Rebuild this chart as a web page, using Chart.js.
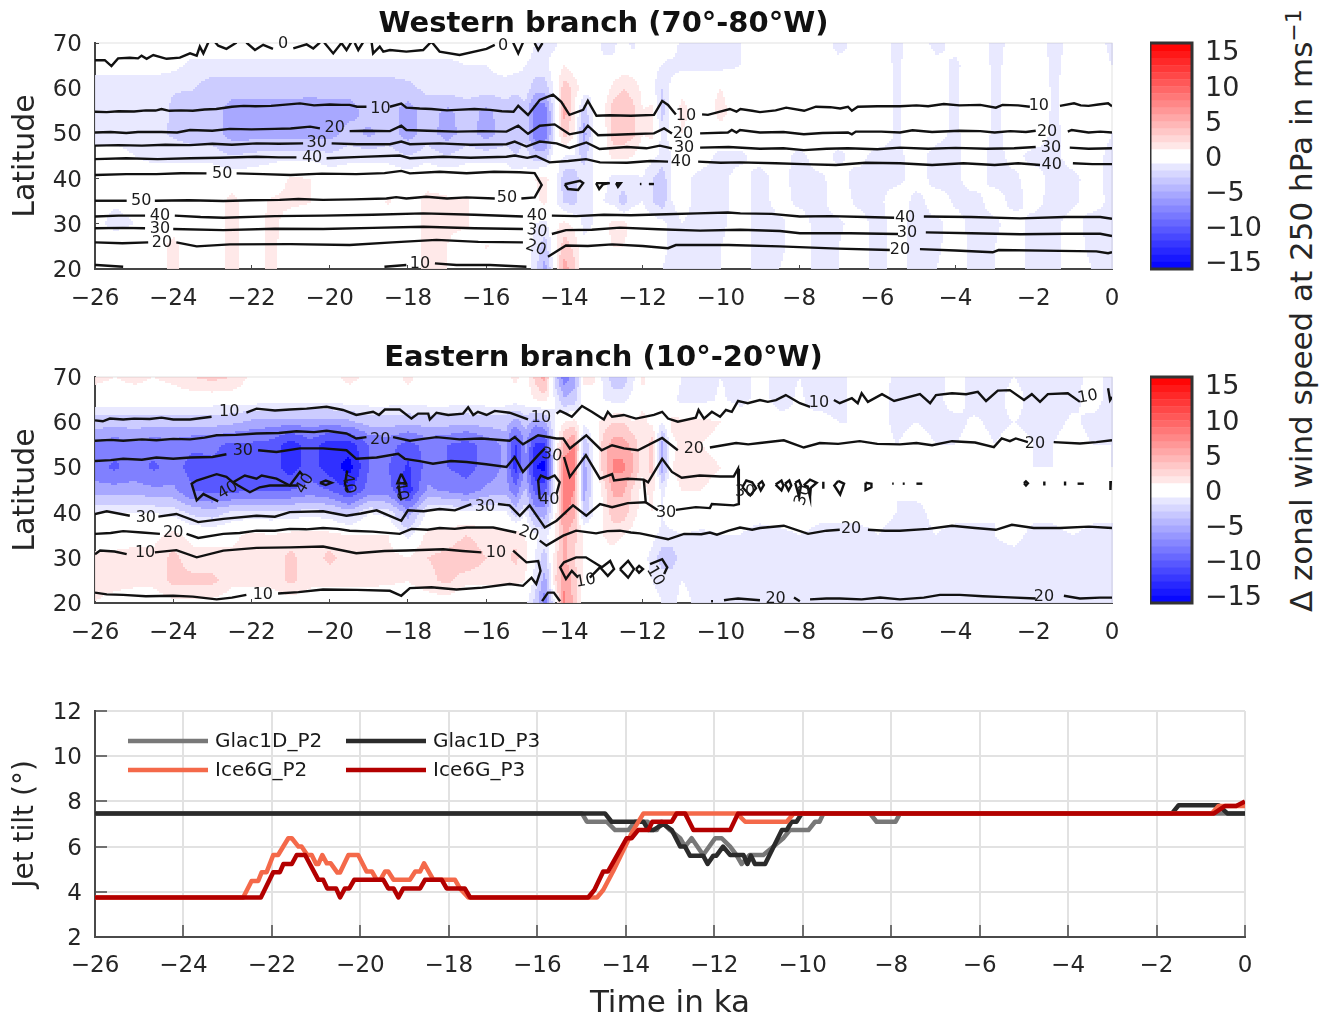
<!DOCTYPE html>
<html>
<head>
<meta charset="utf-8">
<title>Jet wind speed and tilt</title>
<script src="https://cdn.jsdelivr.net/npm/chart.js@4"></script>
<style>
  html, body { margin: 0; padding: 0; background: #fff; width: 1332px; height: 1016px; overflow: hidden; }
  canvas { position: absolute; }
  #sideLabel { position: absolute; left: 1283px; top: 612px; transform-origin: left top; transform: rotate(-90deg);
    white-space: nowrap; font: 31px/36px "DejaVu Sans"; color: #262626; }
  #sideLabel sup { font-size: 22px; line-height: 0; }
</style>
</head>
<body>
<canvas id="westChart" width="1207" height="314" style="left:0;top:0"></canvas>
<canvas id="westBar" width="130" height="246" style="left:1150px;top:33px"></canvas>
<canvas id="eastChart" width="1207" height="314" style="left:0;top:334px"></canvas>
<canvas id="eastBar" width="130" height="246" style="left:1150px;top:367px"></canvas>
<canvas id="tiltChart" width="1332" height="318" style="left:0;top:701px"></canvas>
<div id="sideLabel">Δ zonal wind speed at 250 hPa in ms<sup>−1</sup></div>

<script>
const timeTicks = [-26, -24, -22, -20, -18, -16, -14, -12, -10, -8, -6, -4, -2, 0];
const latTicks = [20, 30, 40, 50, 60, 70];
const tiltTicks = [2, 4, 6, 8, 10, 12];
const colorTicks = [-15, -10, -5, 0, 5, 10, 15];

// columns and rows of the wind anomaly field
const fieldTimes = [-26, -25.5, -25, -24.5, -24, -23.5, -23, -22.5, -22, -21.5, -21, -20.5, -20, -19.5, -19, -18.5, -18, -17.5, -17, -16.5, -16,
  -15.5, -15.25, -15, -14.75, -14.5, -14.25, -14, -13.75, -13.5, -13.25, -13, -12.75, -12.5, -12.25, -12, -11.75, -11.5, -11.25, -11,
  -10.5, -10, -9.5, -9, -8.5, -8, -7.5, -7, -6.5, -6, -5.5, -5, -4.5, -4, -3.5, -3, -2.5, -2, -1.5, -1, -0.5, 0];
const fieldLats = [20, 25, 30, 35, 40, 45, 50, 55, 60, 65, 70];

const westLat70 = [0,0,0,0,0,0,0,0,0,0,0,0,0,0,0,0,0,0,0,0,0,
  0,0,0,-1,-1.5,-1.5,0,0,0,0,-1.5,-1.5,0,-1.5,0,0,-0.5,0,-1.5,
  -1.5,-1.5,-1,0,0,0,0,-1.5,-0.5,0,-1.5,0,-1.5,-0.5,0,-1.5,-0.5,0,-1.5,-0.5,0,-1.5];
const westLat65 = [0,0,0,0,-0.5,-1.5,-1.5,-1.5,-1.5,-1.5,-1.5,-1.5,-1.5,-1.5,-1.5,-1.5,-1.5,-1.5,-1.5,-1,-1,
  -0.5,-0.5,-1,-1.5,-1.5,0,1,0,0,0,-0.5,-0.5,0,0,0,-0.5,-1,-1.5,-1.5,
  -1.5,-1.5,-1,-0.5,0,0,0,-0.5,-1,0,-1.3,0,-0.5,-1.3,0,-1.3,-0.5,0,-1.3,-0.5,0,-1];
const westLat60 = [-2.4,-2.4,-2.4,-2.4,-2.4,-2.4,-3.5,-3.5,-3.5,-3.5,-3.5,-3.5,-3.5,-3.5,-3.5,-3.5,-3,-2,-1.5,-1.5,-1.5,
  -1.5,-2,-1.5,-3.5,-3.5,-0.5,3.5,2,0,-1,0,1.5,2.5,2,0.5,-0.5,-2.5,-0.5,0.5,
  0.5,1,0,-0.8,-0.3,0,0,-0.3,-0.8,0,-1.2,0,-0.5,-1.2,0,-1.2,-0.5,0,-1.2,-0.5,0,-0.8];
const westLat55 = [-1.5,-1.5,-1.5,-1.8,-2.7,-3.5,-3.5,-5.5,-5.5,-5.5,-5.5,-6,-5.5,-5.5,-3.5,-3.5,-5.5,-3.5,-5,-3.5,-5,
  -3.5,-4,-3,-8,-8,-1.5,5.5,1,-3.5,-0.5,0.5,3.5,3.5,3,1,1.5,-3.5,0,1.5,
  0,1.5,0,-0.8,-0.3,0,0,-0.3,-0.8,0,-1.2,0,-0.5,-1.2,0,-1.2,-0.5,0,-1.2,-0.5,0,-0.8];
const westLat50 = [-1.5,-1.5,-1.5,-1.8,-2.8,-3.5,-3.5,-5.5,-5.5,-5.5,-5.5,-5.5,-5.5,-3.5,-5,-3.5,-5.5,-3.5,-5.5,-3.5,-5.5,
  -3.5,-4,-3,-8,-8.5,-1.5,3.5,1,-5.5,-1,0,3.5,3.5,3,1,1.5,-1.5,-0.5,1,
  0,0.5,0,-0.8,-0.3,0,0,-0.3,-1,0,-1.2,0,-0.5,-1.3,0,-1.3,-0.5,0,-1.3,-0.5,0,-1];
const westLat45 = [-0.5,-0.5,-1,-1.5,-1.5,-1.5,-1.5,-2.5,-2,-1.5,-1.5,-1.5,-2,-1.5,-1.5,-1.5,-2.5,-1.5,-2.5,-1.5,-1.5,
  -1.5,-2.5,-1.5,-3.5,-3.5,0,-1,-1,-3.5,-0.5,0,1.5,1.5,1,0,-0.5,-1.5,-1,0,
  -0.3,-1.5,-1.3,-0.5,-0.3,-1.5,-0.3,-1.3,-0.5,-1.5,-1.3,-0.5,-1.5,-1.3,-0.3,-1.5,-0.5,-1.5,-1.3,-0.5,-0.3,-1.5];
const westLat40 = [0,0,0,0,0,0,0,0,0,0,1.2,1,0,0,0,0,0,0.3,0.3,0,0,
  0,0,-0.5,1,1.5,0,-3.5,-3.5,-1,-1,-0.5,-1.5,-1.5,-1.5,-1,-2.5,-3.5,-1,-0.5,
  -1.5,-1.3,-0.5,-1.5,-0.5,-1.5,-1.3,-0.5,-1.5,-1.3,-1.5,-0.3,-1.5,-1.3,-0.3,-1.5,-1.3,-0.3,-1.5,-1.3,-0.5,-1.5];
const westLat35 = [-0.5,-0.8,-0.5,0,0,-0.5,0,1.5,0,1.2,1.3,1.1,0,-0.5,0,1.2,0,1.5,1.2,1.2,0,
  0,0,0,0.5,1.5,-0.5,-3,-3,-1,-1,-1,-1.5,-3.5,-1.5,-1,-2.5,-3.5,-1,-0.5,
  -1.5,-1.5,-0.3,-1.5,-0.5,-1.3,-1.5,-0.2,-1.3,-1.5,0,-1.5,-0.3,-1.2,-1.5,-0.3,-1.5,-0.5,-1.5,-1.2,-0.5,-1.3];
const westLat30 = [-0.5,-1.5,-1,0,0.3,0,0,1.5,0,1.5,0.3,0,0,0,0,0.3,0,1.5,1.2,1.2,0,
  0,0.5,0,-1,-1.5,0.5,1.5,0.5,-1.5,-1,0.5,1.5,1.5,0.5,0,0,-0.5,-1.5,-1,
  -1.5,-1.3,-0.3,-1.5,-1.3,-0.3,-1.5,-1.3,-0.3,-1.5,-0.5,-1.5,-1.3,-0.5,-1.5,-1.3,-0.3,-1.5,-1.3,-0.5,-1.5,-1.3];
const westLat25 = [0,0,0,0,1.5,0,0,1.5,0,1.5,0,0,0,0,0,0,0,1.5,1,0.3,1.1,
  0.5,0.5,0,-1.5,-3.5,0.5,3.5,2,-0.5,0,0.5,1,1,0.5,0,0,-0.5,-1.5,-1,
  -1.5,-1,-0.3,-1.5,-1.3,-0.3,-1.5,-1,-0.3,-1.5,-0.5,-1.5,-1.3,-0.3,-1.5,-1,-0.3,-1.5,-1.3,-0.5,-1.3,-1];
const westLat20 = [0,0,0,0,1.5,0,0,1.5,0,1.5,0,0,0,0,0,0,0,1.5,1,0.3,0,
  0,0,0,-1.5,-5.5,0,5.5,3,-0.5,0,0,0,0.5,0,0,0,-1,-1.5,-1,
  -1.5,-1,-0.3,-1.5,-1,-0.3,-1.5,-1,-0.3,-1.5,-0.5,-1.5,-1,-0.3,-1.5,-1,-0.3,-1.5,-1.3,-0.5,-1,-1];

const eastLat70 = [1.5,1,1.5,1,1.5,2.5,3,2.5,0.5,0,0,0,0.5,1.5,0.5,0,1.5,0,0,0,0,
  0.5,1.5,0,3,5.5,-3,-8,-5.5,1.5,1.5,-1.5,-3.5,-3.5,-1.5,1.5,0,-0.5,0,-1,
  -1.5,-1,-1.5,-0.5,-1.5,-1,-1.5,-1.5,-0.5,0,-1.5,-1.5,-1.5,-0.5,-1.5,-1.5,-1,-1.5,-1.5,-1.5,-0.5,-1.5];
const eastLat65 = [0,0,0,0,0,0,0,0,0,0,0,0,0,0,0,0,0,0,0,0,0,
  0,0,0,1,1.5,-1,-4,-3.5,0,0,-1,-1.5,-1.5,-0.5,0.5,0,0,-0.5,-1.5,
  -1.5,-0.8,-1.5,-0.5,-1.5,-0.8,-1.5,-1.5,-0.5,-0.3,-1.5,-1.5,-1.3,-0.5,-1.5,-1.5,-0.5,-1.5,-1.5,-1.3,-0.5,-1.5];
const eastLat60 = [-3.5,-3.5,-3.5,-3.5,-3.5,-3.5,-3.5,-4,-5,-5.5,-5.5,-5.5,-5.5,-5,-3.5,-3.5,-4,-3.5,-3.5,-4,-3.5,
  -3.5,-5.5,-3.5,-5.5,-4.5,-1,1,1.5,-0.5,0.5,1.5,2.5,2.5,1,1.5,0.5,-1,1.5,1.5,
  1.5,1,0,0,-0.5,-1,-0.5,-1,-1,-0.5,-1.3,-1,-1.3,-1.3,-0.8,-1.3,-1,-1.3,-1.3,-0.8,-1.3,-1.3];
const eastLat55 = [-7,-8,-7,-8,-7.5,-8.5,-8.5,-9.5,-9.5,-10,-13,-10,-13,-13,-9,-8,-10,-8,-9,-10,-8,
  -6,-12,-6,-12,-12,-1,5,7,-4,-1,3.5,5.5,5.5,4,1,3.5,-5.5,0.5,1.5,
  1,0.5,0,-0.5,-0.5,0,-0.5,-1,-0.5,-0.5,-1,-0.5,-1,-1,-0.5,-1,-0.5,-1,-1,-0.5,-1,-1];
const eastLat50 = [-8,-9.5,-8,-9.5,-8,-10,-9.5,-10,-10.5,-10,-13,-10,-13,-15,-9,-9,-12,-8,-9,-10,-8,
  -6,-13,-6,-14,-15,-1.5,8,7,-5.5,-1,3.5,7,7,5,1,3.5,-5.5,1,1.5,
  1.5,1,0,0,-0.5,-0.5,0,-1,-0.5,-0.5,-1,-0.5,-1,-0.5,-0.5,-1,-0.5,-1,-1,-0.5,-0.5,-1];
const eastLat45 = [-5.5,-5.5,-5.5,-6,-6,-9,-10,-10,-9,-9,-9,-8,-9,-12,-8,-8,-13,-6,-7,-8,-6,
  -5.5,-8,-4,-10,-10,-1.5,9,6.5,-5.5,-1,1.5,5,5,2,0.5,1.5,-1.5,0.5,1,
  1,0.5,0,0,0,0.5,-0.5,-0.5,-0.5,-0.5,-1,-0.5,-0.5,-0.5,-0.5,-1,0,-0.5,-0.5,0,-0.5,-0.5];
const eastLat40 = [-1,-1,-1,-1,-1.5,-3,-3.5,-2,-2,-2,-2,-1.5,-2,-3.5,-1,-1.5,-5.5,-0.5,-0.5,-0.5,-0.5,
  -0.5,-3.5,-1,-5.5,-5.5,0,7,5,-3.5,-1,1,3.5,3.5,1.5,0.5,1,-1,0.5,0.5,
  0.5,0,-0.5,-0.5,0,0,-0.5,-0.5,-0.5,-0.5,-1,-1.5,-0.5,-0.5,-0.5,-1,0,-0.5,-0.5,0,-0.5,-0.5];
const eastLat35 = [0,0,0.5,0.5,1.5,0.5,0.5,0.5,1.5,1,1.5,1.5,1.5,1,1,1,-1.5,1.5,1.5,2.5,1.5,
  1.5,2,1,-0.5,-1.5,0.5,5,3,1,1,1,1.5,1,0.5,0,-0.5,-1.5,-1.5,-1,
  -1.5,-1,-1,-1.5,-1.5,-1,-1.5,-1.5,-1.5,-1,-1.5,-1.5,-1,-1.5,-1.5,-1,-0.5,-1.5,-1.5,-1,-1.5,-1.5];
const eastLat30 = [1.5,1.5,1.5,1.5,3,1.5,1.5,1.5,2,1.5,3,1.5,3,1.5,1.5,1.5,1,2.5,3,4,2.5,
  2,3,1.5,-1,-3.5,1.5,5,2.5,1,0.5,0.5,0.5,0,0,-0.5,-1.5,-3.5,-3.5,-1.5,
  -1.5,-1,-1.5,-1.5,-1.5,-1.2,-1.5,-1.5,-1,-1.5,-1.5,-1.5,-1.5,-1.5,-1,-1.5,-1.5,-1.5,-1.5,-1.2,-1.5,-1.5];
const eastLat25 = [1.5,1.5,1.5,1.5,3,3,3,1.5,1.5,1.5,3,1.5,1.5,1.5,1.5,1.5,1,2,3,1.5,1.5,
  1.5,1.5,1,-1.5,-5.5,2,6.5,3.5,0.5,0,0,0,0,0,-0.5,-1,-1.5,-1.5,-1,
  -1.5,-1.5,-1.5,-1.5,-1.5,-1,-1.5,-1.5,-1.5,-1.5,-1.2,-1.5,-1.5,-1,-1.5,-1.5,-1.5,-1.5,-1.2,-1.5,-1.5,-1.5];
const eastLat20 = [1,0.5,0,0,0.5,0.5,0.5,0,0,0,0,0,0,0,0,-1,0,0,0,-1,-1,
  -1,-1,-0.5,-3,-8,-1,7,4,-0.5,0,0,0,0,0,-0.5,-0.5,-1,-1.5,-0.5,
  -1.5,-1,-1.5,-1.5,-1.5,-1,-1.5,-1.5,-1.5,-1,-1.5,-1.5,-1.5,-1,-1.5,-1.5,-1.5,-1.5,-1,-1.5,-1.5,-1.5];

const westRows = [westLat20, westLat25, westLat30, westLat35, westLat40, westLat45, westLat50, westLat55, westLat60, westLat65, westLat70];
const eastRows = [eastLat20, eastLat25, eastLat30, eastLat35, eastLat40, eastLat45, eastLat50, eastLat55, eastLat60, eastLat65, eastLat70];

// filled contour classes
const bandEdges = [1, 2.5, 4.5, 6.5, 9, 11.5, 14];
const blueBands = ['#e9e9ff', '#ccccff', '#a8a8ff', '#8080ff', '#5858ff', '#3030ff', '#0000ff'];
const redBands = ['#ffe9e9', '#ffcccc', '#ffaaaa', '#ff8080', '#ff5858', '#ff3030', '#ff0000'];
const colorEdges = [-16, -15, -14, -13, -12, -11, -10, -9, -8, -7, -6, -5, -4, -3, -2, -1, 1, 2, 3, 4, 5, 6, 7, 8, 9, 10, 11, 12, 13, 14, 15, 16.2];

// contour lines of the jet, [time, latitude], one list per unbroken piece
const westLines = [
  // 0
  [[-26,66.2],[-25.75,66.2],[-25.58,64.9],[-25.41,66.6],[-25.11,66.75],[-24.9,66.6],[-24.81,67.2],[-24.68,66.5],[-24.51,67.35],[-24.17,66.5],[-23.83,66.75],[-23.57,67.7],[-23.4,67.2],[-23.32,69.2],[-23.23,67.7],[-23.11,70],[-23.06,71]],
  [[-22.94,70.3],[-22.85,69.4],[-22.64,68.7],[-22.38,70.1]],
  [[-22.13,70.1],[-21.91,68.45],[-21.7,69.6],[-21.45,68.7]],
  [[-20.93,68.8],[-20.59,69.7],[-20.42,68.8],[-20.25,70.1]],
  [[-20.14,70.1],[-19.91,67.7],[-19.7,70],[-19.57,68.45],[-19.44,70.3]],
  [[-19.36,70],[-19.27,68.45],[-19.15,70.1]],
  [[-18.93,70.3],[-18.89,67.7],[-18.72,69.2],[-18.63,68.1],[-18.46,68.45],[-18.04,68.1],[-17.61,68.45],[-17.4,70.3],[-17.19,68.1],[-16.68,67.35],[-15.99,68.7],[-15.78,69.6]],
  [[-15.31,70.1],[-15.18,67.7],[-15.06,70.1]],
  [[-14.76,70],[-14.67,68.45],[-14.56,70]],
  // 10 upper
  [[-26,54.8],[-25.7,54.7],[-25.4,54.9],[-25,54.85],[-24.7,55.1],[-24.45,55.05],[-24.3,55.4],[-24.1,55],[-23.8,55.1],[-23.5,55],[-23.2,55.3],[-22.9,55.4],[-22.5,55.9],[-22.2,56.1],[-21.9,56],[-21.5,56.1],[-21.2,56.3],[-20.76,56.65],[-20.4,56.2],[-20,56.4],[-19.7,56.3],[-19.49,56.3],[-19.3,55.9],[-19.06,55.9]],
  [[-18.46,55.9],[-18.17,56.6],[-18.04,55.7],[-17.7,55.5],[-17.4,55.4],[-17,55.1],[-16.76,55.2],[-16.3,55.4],[-15.9,55.2],[-15.6,54.9],[-15.3,54.8],[-15.18,56.1],[-14.93,54.1],[-14.63,57.4],[-14.29,58.6],[-14.08,57],[-13.87,54.1],[-13.52,55.2],[-13.4,57.2],[-13.18,53.9],[-12.84,54],[-12.3,53.9],[-11.71,54.1],[-11.5,57.2],[-11.35,56.3],[-11.15,54.2]],
  [[-10.48,54.2],[-10.33,54.1],[-10.02,54.8],[-9.77,55.4],[-9.6,54.8],[-9.5,55.4],[-9.2,55],[-9,54.7],[-8.6,55.1],[-8.33,55.7],[-7.87,55],[-7.57,55.9],[-7.2,55.8],[-6.95,55.5],[-6.75,55.9],[-6.65,55],[-6.5,55.9],[-6,56],[-5.42,56],[-5,56.2],[-4.7,56],[-4.3,56.5],[-3.9,56.2],[-3.37,56.3],[-2.97,55.7],[-2.8,56.3],[-2.4,56.2],[-2.1,55.9]],
  [[-1.33,56.1],[-0.97,56.65],[-0.8,56.2],[-0.6,56.1],[-0.35,56.4],[-0.1,56.65],[0,56]],
  // 20 upper
  [[-26,50.2],[-25.6,50.3],[-25.2,50.1],[-24.9,50.3],[-24.3,50.3],[-23.9,50.2],[-23.57,50.75],[-23,50.6],[-22.55,51],[-22,50.9],[-21.4,51],[-21,51.1],[-20.5,51.5],[-20.25,51.1]],
  [[-19.49,50.5],[-19.1,50.6],[-18.46,50.5],[-18.17,51.7],[-18.04,50.75],[-17.5,50.6],[-16.76,50.4],[-16.1,50.5],[-15.48,50.4],[-15.18,51.7],[-14.93,49.9],[-14.63,51.7],[-14.25,52],[-13.87,49.8],[-13.52,50.4],[-13.4,51.7],[-13.14,49.6],[-12.7,49.7],[-12.37,49.8],[-11.71,50],[-11.45,51.1],[-11.25,50]],
  [[-10.53,50],[-9.82,50.2],[-9.72,50.75],[-9.6,50.2],[-9.51,50.75],[-9,50.2],[-8.4,50.3],[-7.88,49.8],[-7.4,50.1],[-6.75,50.2],[-6.65,49.8],[-6.55,50.4],[-5.9,50.4],[-5.42,50.2],[-5.1,50.7],[-4.6,50.3],[-3.9,50.6],[-3.37,50.5],[-3,50.2],[-2.6,50.5],[-2.2,50.3],[-1.95,50.6]],
  [[-1.13,50.4],[-1.03,50.75],[-0.6,50.2],[-0.3,50.4],[0,50.2]],
  // 30 upper
  [[-26,47.3],[-25.4,47.4],[-24.8,47.3],[-24.2,47.5],[-23.57,47.4],[-23,47.7],[-22.5,47.5],[-21.87,47.8],[-21.3,47.7],[-20.68,47.8]],
  [[-19.95,47.8],[-19.3,47.6],[-18.46,47.6],[-18.17,48.2],[-17.95,47.6],[-17.2,47.8],[-16.4,47.5],[-15.48,47.6],[-15.27,48.2],[-14.97,47.1],[-14.63,48.2],[-14.2,47.8],[-13.87,46.8],[-13.44,48],[-13.1,46.55],[-12.4,47],[-11.9,46.7],[-11.56,47.3],[-11.25,46.7]],
  [[-10.53,46.85],[-9.8,47],[-9,46.6],[-8.4,46.7],[-7.88,46.3],[-7.3,46.6],[-6.75,46.7],[-6,46.5],[-5.42,46.85],[-4.7,46.6],[-4,46.8],[-3.2,46.6],[-2.5,46.7],[-1.95,47]],
  [[-1.08,46.85],[-0.6,46.6],[0,46.7]],
  // 40 upper
  [[-26,44.3],[-25.2,44.5],[-24.4,44.3],[-23.57,44.5],[-22.8,44.6],[-21.87,44.85],[-21.3,44.7],[-20.85,44.7]],
  [[-20.08,44.5],[-19.2,44.8],[-18.21,45.1],[-17.95,44.5],[-17.1,44.85],[-16.4,44.6],[-15.48,44.85],[-15.27,45.1],[-14.95,44.6],[-14.73,45],[-14.38,43.6],[-13.9,43.9],[-13.45,44.3],[-13.09,43.6],[-12.4,43.5],[-11.8,43.9],[-11.35,43.75]],
  [[-10.58,43.75],[-10,43.5],[-9.51,43.6],[-8.6,43.4],[-7.9,43.2],[-7.06,43],[-6.3,43.5],[-5.42,43.4],[-4.6,43],[-3.8,43.4],[-3,43],[-2.4,43.4],[-1.84,43]],
  [[-1,43.4],[-0.5,43.2],[0,43.2]],
  // 50
  [[-26,40.8],[-25.2,41],[-24.43,41],[-23.8,41.2],[-23.15,41.15]],
  [[-22.38,41.15],[-21.7,41],[-21,40.8],[-20.2,41.1],[-19.32,41],[-18.6,41.2],[-18.17,41.7],[-17.95,41.15],[-17.19,41.5],[-16.5,41.2],[-15.8,41.5],[-15.14,41.4],[-14.76,41.2],[-14.58,38.6],[-14.76,35.85],[-15.1,35.6]],
  [[-15.78,35.6],[-16.5,35.85],[-17,35.6],[-17.53,36],[-18.04,35.6],[-18.3,35.9],[-18.55,35.6],[-19.4,35.4],[-20.17,35.3],[-20.8,35.5],[-21.28,35.3],[-22,35.2],[-22.72,35.05],[-23.6,35.2],[-24.47,35.1]],
  [[-25.19,35.1],[-26,35.1]],
  // 40 lower
  [[-26,31.6],[-25.4,31.8],[-24.72,31.8]],
  [[-23.96,31.8],[-23.3,31.5],[-22.72,31.35],[-21.4,31.7],[-20.17,31.8],[-18.9,32],[-17.61,32.3],[-16.3,32],[-15.06,31.6]],
  [[-14.32,31.8],[-13.7,31.7],[-12.99,32],[-12.3,31.9],[-11.4,32.1],[-10.6,32.3],[-9.82,32.5],[-9.5,32.3],[-8.7,32.2],[-7.98,31.6],[-7.2,31.7],[-6.3,31.5],[-5.57,31.35]],
  [[-4.81,31.6],[-3.6,31.5],[-2.35,31.2],[-1.2,31.5],[-0.3,31.5],[0,31.1]],
  // 30 lower
  [[-26,29],[-25.3,29.1],[-24.72,29]],
  [[-24,28.85],[-22.72,28.6],[-21.4,28.9],[-20.17,28.85],[-18.9,29.1],[-17.61,29.35],[-16.3,29],[-15.06,28.85]],
  [[-14.32,27.75],[-13.96,28.6],[-13.3,28.7],[-12.58,29.15],[-11.6,28.8],[-10.53,28.5],[-9.5,28.7],[-8.49,28.4],[-7.98,27.9],[-6.7,27.9],[-5.47,27.75]],
  [[-4.76,28.1],[-3.6,27.9],[-2.35,27.7],[-1.2,27.8],[-0.3,27.8],[0,27.3]],
  // 20 lower
  [[-26,25.9],[-25.3,25.7],[-24.64,25.9]],
  [[-23.92,25.9],[-23.4,25],[-22.55,25.45],[-21,25.5],[-19.49,25.3],[-18.4,25.9],[-17.27,26.45],[-16.2,26],[-15.06,25.9]],
  [[-14.42,22.7],[-13.96,25.2],[-13.4,25.1],[-12.78,25.45],[-12,25.1],[-11.35,24.6],[-11.15,25.3],[-9.8,25.3],[-8.49,25],[-7,24.5],[-5.68,24.2]],
  [[-4.91,24.4],[-4,24.1],[-3.05,23.7],[-2.9,24.2],[-1.33,24],[-0.4,23.9],[-0.1,23.5],[0,23.7]],
  // 10 lower
  [[-26,20.9],[-25.96,20.9],[-25.28,20.5]],
  [[-18.6,20.5],[-18.04,20.9]],
  [[-17.31,21.25],[-16.76,20.9],[-15.9,20.9],[-14.97,20.5]],
  // small closed pieces at 60
  [[-13.99,38.75],[-13.6,39.5],[-13.52,39],[-13.65,37.5],[-13.91,37.7],[-13.99,38.75]],
  [[-13.19,39],[-13.11,37.7],[-13.01,38.75],[-12.84,39],[-13.19,39]],
  [[-12.68,39],[-12.63,38.2],[-12.56,39],[-12.68,39]],
  [[-12.07,38.8],[-12.03,38.8]],
  [[-11.84,38.8],[-11.71,38.8]]
];

const eastLines = [
  // 10 upper
  [[-26,60.4],[-25.8,60.2],[-25.62,60.8],[-25.28,60.6],[-25,60.8],[-24.6,60.7],[-24.3,61],[-24,60.6],[-23.57,60.6],[-23.02,61.2]],
  [[-22.13,62.1],[-21.87,63],[-21.4,62.6],[-21.02,62.8],[-20.59,63],[-20.08,63.4],[-19.66,62.7],[-19.32,61.6],[-18.89,62.3],[-18.74,61.6],[-18.59,62.8],[-18.21,62.8],[-17.91,60.8],[-17.74,61.9],[-17.48,61.9],[-17.44,60.6],[-17.27,62.1],[-16.97,61.6],[-16.59,61.9],[-16.46,63.3],[-16.33,61.6],[-16.21,62.3],[-15.99,61.6],[-15.78,62.5],[-15.4,62.1],[-14.93,60.6]],
  [[-14.2,61.9],[-14.11,62.5],[-13.96,61.9],[-13.81,61.2],[-13.55,63.6],[-13.3,62.3],[-12.99,60.6],[-12.89,62.3],[-12.78,61.2],[-12.48,61.6],[-12.17,60.8],[-11.71,61.6],[-11.5,62.3],[-11.35,60.8],[-11.1,60.1],[-10.64,61],[-10.57,62.7],[-10.43,60.8],[-10.23,62.3],[-10.02,61.2],[-9.87,62.7],[-9.72,62.3],[-9.56,64.7],[-9.46,64.5],[-9.31,64.2],[-9,64.9],[-8.8,64.5],[-8.59,64.9],[-8.34,66],[-7.98,64.2],[-7.72,63.4]],
  [[-7.11,64.9],[-6.96,64.2],[-6.65,65.3],[-6.5,64.2],[-6.4,66.4],[-6.24,64.5],[-5.88,66.2],[-5.57,64.7],[-4.91,66.2],[-4.65,64.2],[-4.5,66],[-4.09,66.4],[-3.73,66.2],[-3.43,66.7],[-3.22,64.7],[-2.92,67],[-2.61,67.1],[-2.25,64.9],[-2.05,66.2],[-1.84,64.5],[-1.64,66.2],[-1.13,66.4],[-0.82,64.5]],
  [[-0.1,67.5],[-0.05,64.9],[0,65.6]],
  // 20 upper
  [[-26,55.9],[-25.6,56.1],[-25.28,55.9],[-24.8,56.2],[-24.43,56],[-24,56.3],[-23.57,56.2],[-23.2,56.6],[-22.89,57.1],[-22.4,57.2],[-21.87,57.5],[-21.3,57.6],[-20.85,58],[-20.4,57.8],[-20.08,58.1],[-19.57,57.5],[-19.32,56.4],[-19.06,56.7]],
  [[-18.38,56.7],[-17.95,55.9],[-17.6,56.3],[-17.27,56.7],[-16.68,56.2],[-16.12,56.4],[-15.4,55.9],[-15.27,56.7],[-15.06,55.1],[-14.67,57.1],[-14.2,56.4],[-14.03,56.4],[-13.86,54.2],[-13.44,57.1],[-13.05,53.8],[-12.78,54.9],[-12.48,54.2],[-12.12,53.8],[-11.5,56.5],[-11.1,53.8]],
  [[-10.28,54.4],[-9.61,55.4],[-9.3,55.1],[-9,55.4],[-8.39,56],[-7.88,54.4],[-7.47,55.4],[-7,55.2],[-6.45,55.8],[-6,55.2],[-5.42,55.1],[-5,55.4],[-4.6,54.9],[-4.09,55.8],[-3.5,55.5],[-3.02,54.5],[-2.82,56.4],[-2.61,55.8],[-2.46,56.4],[-2.15,55.6]],
  [[-1.49,55.6],[-0.82,55.3],[-0.4,55.6],[0,56]],
  // 30 upper and its closing edge near -10
  [[-26,51.4],[-25.6,51.6],[-25.28,51.9],[-24.8,51.7],[-24.43,52.2],[-24,51.9],[-23.57,52.2],[-23,52.3],[-22.64,52.9]],
  [[-21.83,53.8],[-21.36,53.4],[-20.76,54.2],[-20.17,54.2],[-19.57,53.8],[-19.32,51.9],[-18.8,52.2],[-18.25,53],[-18.08,51.9],[-17.7,51.4],[-17.36,50.8],[-16.9,51.4],[-16.5,51.2],[-16,50.7],[-15.48,50.1],[-15.27,52.3],[-15.06,49],[-14.67,52.7],[-14.5,54.2]],
  [[-14.01,52.3],[-13.86,47.9],[-13.45,52.7],[-13.09,47.5],[-12.78,48.5],[-12.73,47.1],[-12.38,47.5],[-11.97,47.3],[-11.86,46.7],[-11.5,51.9],[-11.25,49],[-11,47.7],[-10.54,48.2],[-10.02,48],[-9.67,48],[-9.56,49.7],[-9.54,41.9],[-9.67,41.6],[-10.23,41.9],[-10.28,41],[-10.64,41.2],[-11.15,40.6]],
  [[-11.97,47.3],[-11.92,42.3],[-11.61,40.5]],
  // 30 lower
  [[-26,39.7],[-25.7,40.3],[-25.11,39.3]],
  [[-24.38,39.1],[-23.92,39.7],[-23.36,37.9],[-22.72,38.6],[-21.87,39.3],[-21.4,39.1],[-21.02,40.1],[-20.17,40.3],[-19.57,39.3],[-19.2,39.8],[-18.8,40.5],[-18.17,38.2],[-18,40.5],[-17.6,40.3],[-17.19,40.8],[-16.8,40.5],[-16.38,41.9]],
  [[-15.7,41.9],[-15.4,41.6],[-15.14,39.3],[-14.89,41.6],[-14.5,36.7],[-14.2,38.2],[-13.78,41.6],[-13.44,39.3],[-13.09,41.9],[-12.78,41.2],[-12.38,42.1],[-11.92,42.3]],
  // 30 small closed pieces
  [[-9.45,45.6],[-9.35,47.1],[-9.2,46.7],[-9.1,45.4],[-9.25,43.8],[-9.45,45.6]],
  [[-9.05,46.2],[-8.95,46.9],[-8.9,46.1],[-8.98,44.9],[-9.05,46.2]],
  [[-8.6,46.2],[-8.45,47.1],[-8.4,46],[-8.45,44.9],[-8.6,46.2]],
  [[-8.36,46.4],[-8.25,47.1],[-8.2,46],[-8.27,44.9],[-8.36,46.4]],
  [[-8.1,46.6],[-8,47.1],[-7.95,46],[-8,43.5],[-8.1,46.6]],
  [[-7.88,46],[-7.72,47.3],[-7.55,46.6],[-7.7,45.5],[-7.72,43.5],[-7.78,45.8],[-7.88,46]],
  [[-7.38,46.8],[-7.38,45.3]],
  [[-7,47],[-6.85,46.4],[-6.95,44],[-7.1,46],[-7,47]],
  [[-6.3,46.6],[-6.15,46.4],[-6.15,45.6],[-6.3,45],[-6.3,46.6]],
  [[-5.62,46.4],[-5.58,46.4]],
  [[-5.35,46.4],[-5.3,46.4]],
  [[-5,46.4],[-4.85,46.4]],
  [[-2.25,46.5],[-2.2,46.9],[-2.15,46.5],[-2.2,46],[-2.25,46.5]],
  [[-1.73,46.9],[-1.73,46]],
  [[-1.2,46.9],[-1.2,46]],
  [[-0.88,46.4],[-0.72,46.4]],
  [[-0.03,47],[-0.05,46],[-0.03,45]],
  // 40
  [[-22.85,42.5],[-23.23,44.1],[-23.4,42.7],[-23.53,46.4],[-23.4,47.1],[-22.89,48.5],[-22.64,47.9],[-22.47,46.7],[-22.17,48.2],[-21.87,47.5],[-21.74,48.2],[-21.36,47.5],[-21.02,46],[-20.76,49],[-20.68,48.2]],
  [[-22.47,46.7],[-22.34,46],[-22.04,44.5],[-21.79,45.6],[-21.53,46],[-21.27,46],[-21.02,46],[-20.8,46]],
  [[-20.25,46.6],[-20.1,47.1],[-19.95,46.6],[-20.1,46.1],[-20.25,46.6]],
  [[-19.55,49.3],[-19.61,46.4],[-19.53,44.5]],
  [[-18.17,48.6],[-18.27,46.5],[-18.05,46.5],[-18.17,48.6]],
  [[-18.25,46],[-18.17,42.7]],
  [[-14.63,43],[-14.67,47.1],[-14.6,48.2],[-14.42,47.5],[-14.25,48.2],[-14.12,46.7],[-14.2,44.2]],
  // 20 lower
  [[-26,35.3],[-25.6,35.5],[-25.28,35.9],[-24.8,35.6],[-24.34,35.3]],
  [[-23.66,35.3],[-23.36,34.4],[-22.72,35.3],[-22.3,35.5],[-21.87,36],[-21.4,36],[-21.02,36.4],[-20.6,36.3],[-20.17,36.6],[-19.8,36.4],[-19.49,36],[-18.9,35.8],[-18.21,35.3],[-17.91,36.4],[-17.5,36.2],[-17.19,36.6],[-16.8,36.4],[-16.5,36.7],[-15.82,36.7],[-15.23,35.6]],
  [[-14.63,33.8],[-14.46,32.7],[-14.03,34.9],[-13.7,36],[-13.19,35.4],[-12.9,35.9],[-12.58,36],[-12.3,35.6],[-12.07,35.4],[-11.35,34.1],[-10.94,35.3],[-10.5,35.2],[-10.28,35.6],[-10.1,35.1],[-9.8,36],[-9.51,36.7],[-9.2,36.2],[-9,36.6],[-8.39,37.1],[-7.77,35.3],[-7.3,36],[-6.96,36.2]],
  [[-6.24,36.2],[-5.8,36],[-5.42,36],[-4.7,36.4],[-4.09,37.1],[-3.5,36.6],[-2.97,36.2],[-2.56,37.3],[-2,36.6],[-1.33,36.6],[-0.6,36.9],[0,36.6]],
  // 10 middle and bottom
  [[-26,30.8],[-25.87,31.6],[-25.5,31.4],[-25.19,30.8]],
  [[-24.47,31.2],[-23.92,31.7],[-23.4,30.1],[-22.72,31.6],[-21.87,32.2],[-21,32.3],[-20.17,32.5],[-19.32,31],[-18.6,31.5],[-18.04,31.6],[-17.1,31.9],[-16.6,31.5],[-16.12,31.2]],
  [[-15.31,31.6],[-14.97,29],[-14.67,29.3],[-14.61,27.1],[-14.72,24.2],[-14.84,25.6],[-15.06,23.8],[-15.4,24.2],[-16.1,23.4],[-16.76,23],[-17.4,23.5],[-17.95,23.3],[-18.17,21.6],[-18.46,22.7],[-19.3,22.9],[-20.17,23],[-20.8,22.4],[-21.32,22.1]],
  [[-22.13,21.8],[-22.5,21.2],[-22.89,20.8],[-23.5,21.4],[-24,21.6],[-24.7,21.5],[-25.28,21.8],[-25.7,21.9],[-26,22.3]],
  // 10 closed pieces after -14
  [[-13.35,25.6],[-13.09,27.9],[-12.89,26],[-12.73,27.5],[-12.83,29.3],[-13.04,27.9],[-13.45,30.1],[-13.7,30.1],[-14.01,29],[-14.11,27.9],[-13.96,25.3],[-13.81,27.1],[-13.65,25.6]],
  [[-12.58,27.5],[-12.37,29.3],[-12.22,27.5],[-12.37,25.6],[-12.58,27.5]],
  [[-12.17,27.5],[-12.09,28.2],[-11.99,27.5],[-12.09,26.7],[-12.17,27.5]],
  [[-11.81,28.6],[-11.5,29.7],[-11.37,27.9],[-11.45,26.4]],
  [[-14.57,20.4],[-14.42,22.3],[-14.27,22.3],[-14.11,20.4]],
  // 20 bottom
  [[-10.25,20.4],[-10.2,20.4]],
  [[-9.92,20.6],[-9.77,20.8],[-9.56,21],[-9,20.6]],
  [[-8.13,21.2],[-7.98,20.4]],
  [[-7.72,20.8],[-7.3,21],[-6.96,21],[-6.4,20.8],[-5.93,21.2],[-5.42,20.8],[-4.81,21.2],[-4.4,21.8],[-3.89,21.8],[-3.3,21.5],[-2.76,21.3],[-1.95,21]],
  [[-1.23,21.6],[-0.82,21],[-0.31,21.2],[0,21.2]]
];

// inline contour labels: time, latitude, text, rotation in degrees
const westLabels = [
  [-21.19,69.8,'0',0],[-15.57,69.3,'0',0],[-18.7,55.4,'10',0],[-19.87,51.2,'20',0],[-20.33,47.9,'30',0],[-20.45,44.6,'40',0],
  [-22.75,41,'50',0],[-24.82,35,'50',0],[-24.34,31.7,'40',0],[-24.34,28.85,'30',0],[-24.29,25.75,'20',0],[-17.69,21.1,'10',0],
  [-15.47,35.7,'50',0],[-14.7,31.7,'40',0],[-14.7,28.4,'30',8],[-14.73,24.65,'20',20],[-10.89,53.85,'10',0],[-10.97,49.9,'20',0],
  [-10.94,46.8,'30',0],[-11.02,43.7,'40',0],[-1.87,56.05,'10',0],[-1.66,50.3,'20',0],[-1.56,46.8,'30',0],[-1.54,43,'40',0],
  [-5.29,31.3,'40',0],[-5.24,28,'30',0],[-5.42,24.2,'20',0]
];
const eastLabels = [
  [-22.57,62.2,'10',0],[-18.71,56.2,'20',0],[-22.22,53.6,'30',0],[-22.6,44.9,'40',-30],[-20.63,46.4,'40',-60],[-19.53,46.4,'40',80],
  [-18.18,44.9,'40',80],[-24.7,38.9,'30',0],[-16.03,41.3,'30',0],[-24,35.6,'20',0],[-24.72,31.1,'10',0],[-15.75,31.1,'10',0],
  [-21.71,21.8,'10',0],[-14.6,60.9,'10',0],[-10.69,54,'20',0],[-14.32,52.7,'30',10],[-14.39,42.9,'40',0],[-14.91,35.3,'20',20],
  [-11.4,40,'30',0],[-9.38,44.7,'30',0],[-7.9,43.8,'30',-70],[-13.45,24.9,'10',-10],[-11.68,26,'10',60],[-7.49,64.2,'10',0],
  [-0.62,65.6,'10',-10],[-1.97,55.3,'20',0],[-6.67,36.4,'20',0],[-8.6,20.9,'20',0],[-1.74,21.3,'20',0]
];

// jet tilt series, [time, degrees]
const glac1dP2 = [[-26,7.47],[-14.99,7.47],[-14.88,7.1],[-14.43,7.1],[-14.24,6.73],[-13.94,6.73],[-13.79,7.1],[-13.5,7.1],[-13.45,6.73],[-13.3,6.73],[-13.19,7.1],[-13,6.73],[-12.77,6.37],[-12.66,6],[-12.51,6.37],[-12.25,5.63],[-11.98,6.37],[-11.83,6.37],[-11.64,6],[-11.5,5.63],[-11.38,5.23],[-11.2,5.63],[-10.89,5.63],[-10.66,6],[-10.44,6.37],[-10.29,6.73],[-9.87,6.73],[-9.72,7.1],[-9.62,7.1],[-9.53,7.47],[-8.48,7.47],[-8.33,7.1],[-7.9,7.1],[-7.8,7.47],[0,7.47]];
const glac1dP3 = [[-26,7.47],[-14.47,7.47],[-14.32,7.1],[-13.6,7.1],[-13.49,6.73],[-13.38,6.73],[-13.15,7],[-12.96,6.73],[-12.77,6],[-12.66,6],[-12.55,5.6],[-12.25,5.6],[-12.15,5.23],[-12.02,5.6],[-11.95,5.6],[-11.8,6],[-11.64,5.63],[-11.34,5.63],[-11.25,5.23],[-11.17,5.6],[-11.08,5.23],[-10.85,5.23],[-10.47,6.73],[-10.36,6.73],[-10.25,7.1],[-10.14,7.1],[-10.02,7.47],[-1.65,7.47],[-1.5,7.83],[-0.6,7.83],[-0.4,7.47],[0,7.47]];
const ice6gP2 = [[-26,3.75],[-22.65,3.75],[-22.46,4.48],[-22.31,4.48],[-22.23,4.87],[-22.12,4.87],[-21.97,5.63],[-21.86,5.63],[-21.63,6.37],[-21.55,6.37],[-21.4,6],[-21.33,6],[-21.2,5.63],[-21.1,5.63],[-21,5.23],[-20.95,5.23],[-20.86,5.63],[-20.76,5.26],[-20.67,5.26],[-20.52,4.85],[-20.46,4.85],[-20.27,5.63],[-20.05,5.63],[-19.86,4.9],[-19.74,4.9],[-19.63,4.53],[-19.55,4.53],[-19.44,4.9],[-19.37,4.9],[-19.25,4.53],[-18.88,4.53],[-18.76,4.9],[-18.65,4.9],[-18.56,5.26],[-18.35,4.53],[-17.86,4.53],[-17.75,4.15],[-17.56,3.75],[-14.65,3.75],[-14.51,4.08],[-14.28,4.93],[-13.94,6.3],[-13.83,6.73],[-13.6,7.47],[-11.49,7.47],[-11.3,7.1],[-10.36,7.1],[-10.2,7.47],[-0.75,7.47],[-0.6,7.8],[0,7.8]];
const ice6gP3 = [[-26,3.75],[-22.25,3.75],[-21.97,4.87],[-21.82,4.87],[-21.74,5.23],[-21.55,5.23],[-21.44,5.63],[-21.25,5.63],[-20.95,4.53],[-20.84,4.53],[-20.75,4.15],[-20.55,4.15],[-20.46,3.75],[-20.35,4.15],[-20.25,4.15],[-20.14,4.53],[-19.48,4.53],[-19.37,4.15],[-19.25,4.15],[-19.14,3.75],[-19.03,4.15],[-18.65,4.15],[-18.54,4.53],[-18.16,4.53],[-18.05,4.15],[-17.64,4.15],[-17.52,3.75],[-14.85,3.75],[-14.71,4.08],[-14.51,4.9],[-14.4,4.9],[-13.98,6.37],[-13.87,6.37],[-13.72,6.73],[-13.49,6.73],[-13.4,7.1],[-12.96,7.1],[-12.85,7.47],[-12.66,7.47],[-12.47,6.73],[-11.64,6.73],[-11.46,7.47],[-0.7,7.47],[-0.45,7.8],[-0.2,7.8],[0,8]];

const fontFamily = '"DejaVu Sans"';
const axisColor = '#4a4a4a';
const textColor = '#262626';

function minusLabel(v) {
  return v < 0 ? '\u2212' + Math.abs(v) : String(v);
}

function bandColor(v) {
  const size = Math.abs(v);
  let idx = -1;
  for (let i = 0; i < bandEdges.length; i++) {
    if (size >= bandEdges[i]) idx = i;
  }
  if (idx < 0) return null;
  return v < 0 ? blueBands[idx] : redBands[idx];
}

function bracket(list, value) {
  let i = 0;
  while (i < list.length - 2 && list[i + 1] <= value) i++;
  return i;
}

// paints the field as filled contours, using the chart's own scales
function heatPlugin(rows) {
  return {
    id: 'heat',
    beforeDatasetsDraw(chart) {
      const { ctx, chartArea: a, scales: { x, y } } = chart;
      const step = 2;
      ctx.save();
      for (let px = Math.floor(a.left); px < a.right; px += step) {
        const t = x.getValueForPixel(px + step / 2);
        const i = bracket(fieldTimes, t);
        const ft = Math.min(1, Math.max(0, (t - fieldTimes[i]) / (fieldTimes[i + 1] - fieldTimes[i])));
        for (let py = Math.floor(a.top); py < a.bottom; py += step) {
          const lat = y.getValueForPixel(py + step / 2);
          const j = bracket(fieldLats, lat);
          const fl = Math.min(1, Math.max(0, (lat - fieldLats[j]) / (fieldLats[j + 1] - fieldLats[j])));
          const low = rows[j][i] * (1 - ft) + rows[j][i + 1] * ft;
          const high = rows[j + 1][i] * (1 - ft) + rows[j + 1][i + 1] * ft;
          const color = bandColor(low * (1 - fl) + high * fl);
          if (color) {
            ctx.fillStyle = color;
            ctx.fillRect(px, py, step, step);
          }
        }
      }
      ctx.restore();
    }
  };
}

function labelPlugin(labels) {
  return {
    id: 'contourLabels',
    afterDatasetsDraw(chart) {
      const { ctx, scales: { x, y } } = chart;
      ctx.save();
      ctx.font = '16px ' + fontFamily;
      ctx.fillStyle = '#1a1a1a';
      ctx.textAlign = 'center';
      ctx.textBaseline = 'middle';
      labels.forEach(([t, lat, text, rot]) => {
        ctx.save();
        ctx.translate(x.getPixelForValue(t), y.getPixelForValue(lat));
        ctx.rotate(rot * Math.PI / 180);
        ctx.fillText(text, 0, 0);
        ctx.restore();
      });
      ctx.restore();
    }
  };
}

function framePlugin(color, width) {
  return {
    id: 'frame',
    afterDraw(chart) {
      const { ctx, chartArea: a } = chart;
      ctx.save();
      ctx.strokeStyle = color;
      ctx.lineWidth = width;
      ctx.strokeRect(a.left, a.top, a.right - a.left, a.bottom - a.top);
      ctx.restore();
    }
  };
}

function fixedTicks(list) {
  return scale => { scale.ticks = list.map(v => ({ value: v })); };
}

function fixY(width) {
  return scale => {
    scale.width = width;
    scale.paddingTop = 0;
    scale.paddingBottom = 0;
  };
}

function contourChart(id, title, rows, lines, labels) {
  new Chart(document.getElementById(id), {
    type: 'scatter',
    data: {
      datasets: lines.map(line => ({
        data: line.map(p => ({ x: p[0], y: p[1] })),
        showLine: true,
        borderColor: '#111',
        borderWidth: 2.4,
        pointRadius: 0,
        tension: 0
      }))
    },
    options: {
      responsive: false,
      animation: false,
      layout: { padding: { right: 95 } },
      plugins: {
        legend: { display: false },
        tooltip: { enabled: false },
        title: {
          display: true,
          text: title,
          fullSize: false,
          color: '#111',
          font: { family: fontFamily, size: 29, weight: 'bold', lineHeight: 1 },
          padding: { top: 10, bottom: 4 }
        }
      },
      scales: {
        x: {
          type: 'linear',
          min: -26,
          max: 0,
          afterBuildTicks: fixedTicks(timeTicks),
          afterFit: s => { s.height = 45; },
          border: { color: axisColor, width: 2 },
          grid: { drawOnChartArea: false, tickLength: -4, tickColor: axisColor },
          ticks: { padding: 20, maxRotation: 0, autoSkip: false, color: textColor, font: { family: fontFamily, size: 23 }, callback: minusLabel }
        },
        y: {
          min: 20,
          max: 70,
          afterBuildTicks: fixedTicks(latTicks),
          afterFit: fixY(95),
          border: { color: axisColor, width: 2 },
          grid: { drawOnChartArea: false, tickLength: -4, tickColor: axisColor },
          title: { display: true, text: 'Latitude', color: textColor, font: { family: fontFamily, size: 30 }, padding: { top: 8, bottom: 0 } },
          ticks: { padding: 17, labelOffset: 2, autoSkip: false, color: textColor, font: { family: fontFamily, size: 23 } }
        }
      }
    },
    plugins: [heatPlugin(rows), labelPlugin(labels), framePlugin('rgba(0,0,0,0.12)', 1)]
  });
}

function colorBar(id) {
  const bands = [];
  for (let i = 0; i < colorEdges.length - 1; i++) {
    const mid = (colorEdges[i] + colorEdges[i + 1]) / 2;
    const shade = Math.round(255 * (1 - Math.abs(mid) / 16));
    bands.push({
      data: [[colorEdges[i], colorEdges[i + 1]]],
      backgroundColor: Math.abs(mid) < 1 ? '#fff' : (mid < 0 ? `rgb(${shade},${shade},255)` : `rgb(255,${shade},${shade})`),
      barPercentage: 1,
      categoryPercentage: 1,
      grouped: false
    });
  }
  new Chart(document.getElementById(id), {
    type: 'bar',
    data: { labels: ['wind'], datasets: bands },
    options: {
      responsive: false,
      animation: false,
      layout: { padding: { top: 10, bottom: 10 } },
      plugins: { legend: { display: false }, tooltip: { enabled: false } },
      scales: {
        x: { display: false },
        y: {
          position: 'right',
          min: -16,
          max: 16.2,
          afterBuildTicks: fixedTicks(colorTicks),
          afterFit: fixY(88),
          border: { display: false },
          grid: { drawOnChartArea: false, tickLength: -3, tickColor: '#333' },
          ticks: { padding: 16, autoSkip: false, labelOffset: 2, color: textColor, font: { family: fontFamily, size: 27 }, callback: minusLabel }
        }
      }
    },
    plugins: [framePlugin('#333', 3)]
  });
}

// two column legend inside the tilt axes
const tiltLegend = {
  id: 'tiltLegend',
  afterDatasetsDraw(chart) {
    const { ctx, chartArea: a } = chart;
    const slots = [[33, 30], [251, 30], [33, 59], [251, 59]];
    ctx.save();
    ctx.font = '20px ' + fontFamily;
    ctx.textBaseline = 'middle';
    chart.data.datasets.forEach((set, i) => {
      const lx = a.left + slots[i][0];
      const ly = a.top + slots[i][1];
      ctx.strokeStyle = set.borderColor;
      ctx.lineWidth = 4.5;
      ctx.beginPath();
      ctx.moveTo(lx, ly);
      ctx.lineTo(lx + 80, ly);
      ctx.stroke();
      ctx.fillStyle = '#1a1a1a';
      ctx.fillText(set.label, lx + 87, ly + 1);
    });
    ctx.restore();
  }
};

function toPoints(series) {
  return series.map(p => ({ x: p[0], y: p[1] }));
}

contourChart('westChart', 'Western branch (70°-80°W)', westRows, westLines, westLabels);
contourChart('eastChart', 'Eastern branch (10°-20°W)', eastRows, eastLines, eastLabels);
colorBar('westBar');
colorBar('eastBar');

new Chart(document.getElementById('tiltChart'), {
  type: 'scatter',
  data: {
    datasets: [
      { label: 'Glac1D_P2', data: toPoints(glac1dP2), borderColor: '#787878', order: 3 },
      { label: 'Glac1D_P3', data: toPoints(glac1dP3), borderColor: '#2b2b2b', order: 2 },
      { label: 'Ice6G_P2', data: toPoints(ice6gP2), borderColor: '#f4694a', order: 1 },
      { label: 'Ice6G_P3', data: toPoints(ice6gP3), borderColor: '#b30000', order: 0 }
    ].map(set => ({ ...set, showLine: true, borderWidth: 4.5, pointRadius: 0, tension: 0, borderJoinStyle: 'round' }))
  },
  options: {
    responsive: false,
    animation: false,
    layout: { padding: { top: 10, right: 87 } },
    plugins: { legend: { display: false }, tooltip: { enabled: false } },
    scales: {
      x: {
        type: 'linear',
        min: -26,
        max: 0,
        afterBuildTicks: fixedTicks(timeTicks),
        afterFit: s => { s.height = 82; },
        border: { color: axisColor, width: 2 },
        grid: { color: '#e2e2e2', lineWidth: 2, tickLength: -12, tickColor: axisColor, tickWidth: 1.5 },
        title: { display: true, text: 'Time in ka', color: textColor, font: { family: fontFamily, size: 31, lineHeight: 1 }, padding: { top: 0, bottom: 0 } },
        ticks: { padding: 27, maxRotation: 0, autoSkip: false, color: textColor, font: { family: fontFamily, size: 23 }, callback: minusLabel }
      },
      y: {
        min: 2,
        max: 12,
        afterBuildTicks: fixedTicks(tiltTicks),
        afterFit: fixY(95),
        border: { color: axisColor, width: 2 },
        grid: { color: '#e2e2e2', lineWidth: 2, tickLength: -12, tickColor: axisColor, tickWidth: 1.5 },
        title: { display: true, text: 'Jet tilt (°)', color: textColor, font: { family: fontFamily, size: 28 }, padding: { top: 9, bottom: 0 } },
        ticks: { padding: 25, labelOffset: 2, autoSkip: false, color: textColor, font: { family: fontFamily, size: 23 } }
      }
    }
  },
  plugins: [tiltLegend]
});
</script>
</body>
</html>
